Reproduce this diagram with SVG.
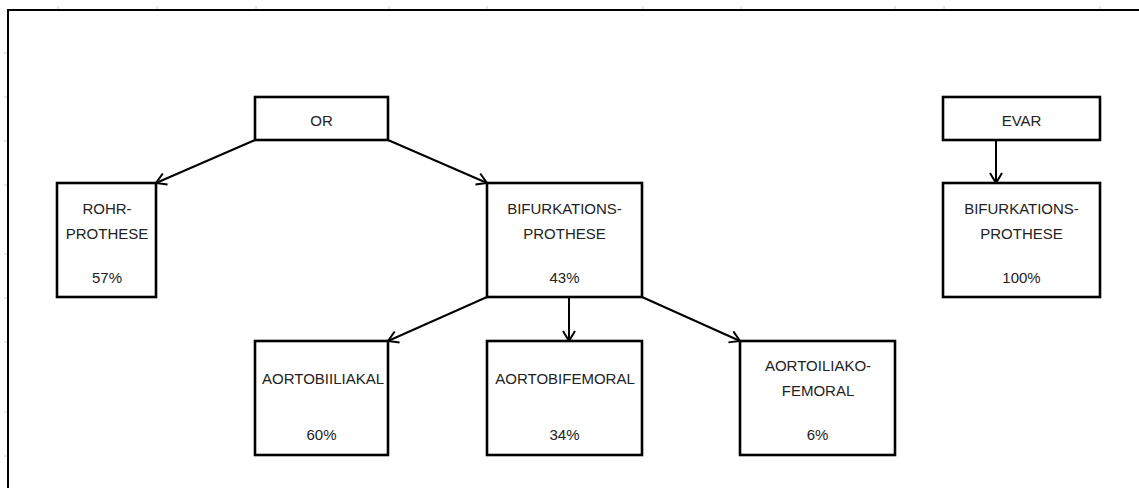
<svg xmlns="http://www.w3.org/2000/svg" width="1139" height="488" viewBox="0 0 1139 488">
<style>
.box{fill:#fff;stroke:#000;stroke-width:2.6}
.t{font-family:"Liberation Sans",Arial,sans-serif;font-size:15px;fill:#222;text-anchor:middle}
.edge{stroke:#000;stroke-width:2;fill:none;marker-end:url(#ah)}
.tick{stroke:#c9ccd6;stroke-width:1}
</style>
<defs>
<marker id="ah" markerUnits="userSpaceOnUse" markerWidth="14" markerHeight="14" refX="12" refY="7" orient="auto">
<path d="M2,1 L12,7 L2,13" fill="none" stroke="#000" stroke-width="2"/>
</marker>
</defs>
<rect width="1139" height="488" fill="#fff"/>
<g id="frame">
<path d="M8,488 V10 H1139" fill="none" stroke="#000" stroke-width="2"/>
<g class="tick">
<path d="M58,6V9M157,6V9M256,6V9M389,6V9M487,6V9M643,6V9M741,6V9M895,6V9M944,6V9M1100,6V9"/>
<path d="M4,53H7M4,97H7M4,141H7M4,185H7M4,254H7M4,298H7M4,342H7M4,412H7M4,456H7"/>
</g>
</g>
<g id="connectors">
<line class="edge" x1="255" y1="140" x2="156" y2="183"/>
<line class="edge" x1="388" y1="140" x2="487" y2="183"/>
<line class="edge" x1="487" y1="297" x2="388" y2="341"/>
<line class="edge" x1="569" y1="297" x2="569" y2="341"/>
<line class="edge" x1="642" y1="297" x2="740" y2="341"/>
<line class="edge" x1="996" y1="140" x2="996" y2="183"/>
</g>
<g id="or">
<rect class="box" x="255" y="97" width="133" height="43"/>
<text class="t" x="321.5" y="126">OR</text>
</g>
<g id="rohr">
<rect class="box" x="57" y="183" width="99" height="114"/>
<text class="t" x="107" y="214">ROHR-</text>
<text class="t" x="107" y="239">PROTHESE</text>
<text class="t" x="107" y="283">57%</text>
</g>
<g id="bifurk-or">
<rect class="box" x="487" y="183" width="155" height="114"/>
<text class="t" x="564.5" y="214">BIFURKATIONS-</text>
<text class="t" x="564.5" y="239">PROTHESE</text>
<text class="t" x="564.5" y="283">43%</text>
</g>
<g id="aortobiiliakal">
<rect class="box" x="255" y="341" width="133" height="114"/>
<text class="t" x="323" y="384">AORTOBIILIAKAL</text>
<text class="t" x="321.5" y="440">60%</text>
</g>
<g id="aortobifemoral">
<rect class="box" x="487" y="341" width="155" height="114"/>
<text class="t" x="565" y="384">AORTOBIFEMORAL</text>
<text class="t" x="564.5" y="440">34%</text>
</g>
<g id="aortoiliakofemoral">
<rect class="box" x="740" y="341" width="155" height="114"/>
<text class="t" x="818" y="371">AORTOILIAKO-</text>
<text class="t" x="818" y="396">FEMORAL</text>
<text class="t" x="817.5" y="440">6%</text>
</g>
<g id="evar">
<rect class="box" x="943" y="97" width="157" height="43"/>
<text class="t" x="1021.5" y="126">EVAR</text>
</g>
<g id="bifurk-evar">
<rect class="box" x="943" y="183" width="157" height="114"/>
<text class="t" x="1021.5" y="214">BIFURKATIONS-</text>
<text class="t" x="1021.5" y="239">PROTHESE</text>
<text class="t" x="1021.5" y="283">100%</text>
</g>
</svg>
